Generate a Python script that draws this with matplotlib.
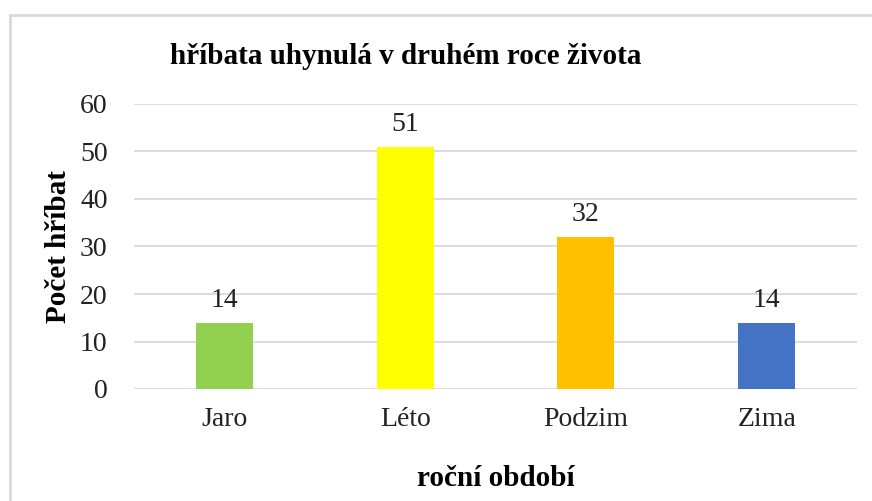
#!/usr/bin/env python3
"""Bar chart: hříbata uhynulá v druhém roce života."""

import matplotlib.pyplot as plt
from matplotlib.lines import Line2D

seasons = ["Jaro", "Léto", "Podzim", "Zima"]
counts = [14, 51, 32, 14]
bar_colors = ["#92D050", "#FFFF00", "#FFC000", "#4472C4"]
y_ticks = [0, 10, 20, 30, 40, 50, 60]

plt.rcParams["font.family"] = ["Liberation Serif", "DejaVu Serif"]

fig = plt.figure(figsize=(8.72, 5.01), dpi=100)
ax = fig.add_axes([134 / 872, 1 - 389 / 501, 723 / 872, 285 / 501])

x = range(len(seasons))
bars = ax.bar(x, counts, width=0.315, color=bar_colors, zorder=3)
for b, v in zip(bars, counts):
    ax.text(b.get_x() + b.get_width() / 2, v + 2.0, str(v),
            ha="center", va="bottom", fontsize=20, color="#222222")

ax.set_xlim(-0.5, len(seasons) - 0.5)
ax.set_ylim(0, 60)
ax.set_yticks(y_ticks)
ax.set_xticks(list(x))
ax.set_xticklabels(seasons)
ax.tick_params(axis="both", length=0, labelsize=20, colors="#222222")
ax.tick_params(axis="y", pad=19)
ax.tick_params(axis="x", pad=13)
ax.yaxis.grid(True, color="#D9D9D9", linewidth=1.3, zorder=0)
for s in ax.spines.values():
    s.set_visible(False)

ax.set_ylabel("Počet hříbat", fontsize=21, fontweight="bold", labelpad=6)
ax.set_xlabel("roční období", fontsize=21, fontweight="bold", labelpad=24)
fig.text(406 / 872, 1 - 56 / 501, "hříbata uhynulá v druhém roce života",
         ha="center", va="center", fontsize=21, fontweight="bold")

# chart frame (only top and left edges are visible in the crop)
fig.add_artist(Line2D([9.5 / 872, 9.5 / 872], [0, 1 - 14.5 / 501],
                      color="#D9D9D9", linewidth=2))
fig.add_artist(Line2D([9.5 / 872, 1], [1 - 14.5 / 501, 1 - 14.5 / 501],
                      color="#D9D9D9", linewidth=2))

fig.savefig("out.png", dpi=100)
